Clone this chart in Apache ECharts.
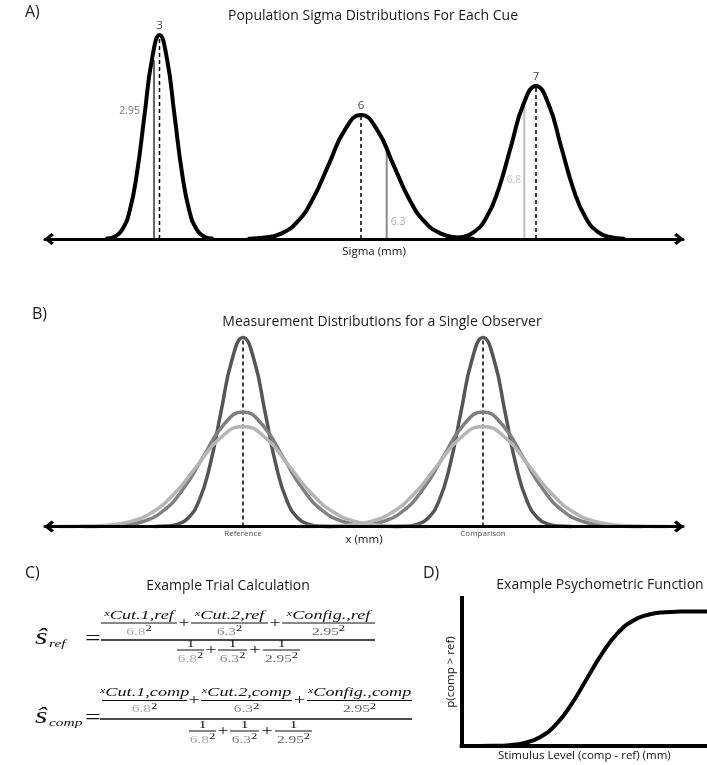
<!DOCTYPE html>
<html>
<head>
<meta charset="utf-8">
<script src="https://cdn.jsdelivr.net/npm/echarts@6/dist/echarts.min.js"></script>
<style>
  html, body { margin: 0; padding: 0; background: #fff; }
  #chart { width: 707px; height: 765px; }
</style>
</head>
<body>
<div id="chart"></div>
<script>
// ── values (arbitrary units along each drawn axis) ──

// A) population sigma distributions, one per cue
const cueLabels = ['3', '6', '7'];
const cuePeakX = [114.5, 316, 491];
const cuePeakH = [204, 124, 153];
const cue1X = [62, 69.5, 77, 84.5, 92, 99.5, 107, 114.5, 122, 129.5, 137, 144.5, 152, 159.5, 167];
const cue1Y = [0.4, 2.3, 9, 27.6, 66.2, 123.7, 180, 204, 180, 123.7, 66.2, 27.6, 9, 2.3, 0.4];
const cue2X = [204, 220, 236, 252, 268, 284, 300, 316, 332, 348, 364, 380, 396, 412, 428];
const cue2Y = [0.3, 1.4, 5.4, 16.8, 40.3, 75.2, 109.4, 124, 109.4, 75.2, 40.3, 16.8, 5.4, 1.4, 0.3];
const cue3X = [403.5, 416, 428.5, 441, 453.5, 466, 478.5, 491, 503.5, 516, 528.5, 541, 553.5, 566, 578.5];
const cue3Y = [0.3, 1.7, 6.7, 20.7, 49.7, 92.8, 135, 153, 135, 92.8, 49.7, 20.7, 6.7, 1.7, 0.3];

// sampled sigma of each cue (grey markers)
const sampleLabels = ['2.95', '6.3', '6.8'];
const sampleX = [109, 341.7, 479.3];
const sampleH = [179, 90, 137];

// B) measurement distributions for one observer
const obsLabels = ['Reference', 'Comparison'];
const obsX = [198, 438];
const obsPeak = 189;
const refDarkX = [110, 121, 132, 143, 154, 165, 176, 187, 198, 209, 220, 231, 242, 253, 264, 275, 286];
const cmpDarkX = [350, 361, 372, 383, 394, 405, 416, 427, 438, 449, 460, 471, 482, 493, 504, 515, 526];
const darkY = [0.1, 0.4, 2.1, 8.3, 25.6, 61.4, 114.6, 166.8, 189, 166.8, 114.6, 61.4, 25.6, 8.3, 2.1, 0.4, 0.1];
const refMidX = [38, 58, 78, 98, 118, 138, 158, 178, 198, 218, 238, 258, 278, 298, 318, 338, 358];
const cmpMidX = [278, 298, 318, 338, 358, 378, 398, 418, 438, 458, 478, 498, 518, 538, 558, 578, 598];
const midY = [0, 0.3, 1.3, 5, 15.5, 37.2, 69.4, 101, 114.5, 101, 69.4, 37.2, 15.5, 5, 1.3, 0.3, 0];
const refLightX = [14, 37, 60, 83, 106, 129, 152, 175, 198, 221, 244, 267, 290, 313, 336, 359, 382];
const cmpLightX = [254, 277, 300, 323, 346, 369, 392, 415, 438, 461, 484, 507, 530, 553, 576, 599, 622];
const lightY = [0, 0.2, 1.1, 4.4, 13.5, 32.5, 60.7, 88.3, 100, 88.3, 60.7, 32.5, 13.5, 4.4, 1.1, 0.2, 0];

// C) cue weights in the trial calculation
const cueNames = ['Cut.1', 'Cut.2', 'Config.'];
const cueSigmas = ['6.8', '6.3', '2.95'];

// D) psychometric function
const psyX = [0, 16.5, 32, 47.5, 63, 78.5, 94, 109.5, 125, 140.5, 156, 171.5, 187, 202.5, 218, 233.5, 245];
const psyP = [0, 0, 0.001, 0.006, 0.023, 0.067, 0.159, 0.309, 0.5, 0.691, 0.841, 0.933, 0.977, 0.994, 0.999, 1, 1];

// ── styles ──
const FONT = "'Open Sans', 'Noto Sans', sans-serif";
const MATH = "'Liberation Serif', 'DejaVu Serif', serif";
const INK = '#111';
const DARK = '#555';
const MID = '#808080';
const LIGHT = '#b5b5b5';
const SAMPLE_LINE = ['#666', '#8a8a8a', '#bdbdbd'];
const SAMPLE_TEXT = ['#555', '#9a9a9a', '#b8b8b8'];
// where each grey number sits next to its marker
const SAMPLE_LABEL = [
  { h: 128, position: 'left', distance: 14 },
  { h: 17, position: 'right', distance: 4 },
  { h: 59, position: 'left', distance: 3 },
];
const CHEVRON = 'path://M6,0 L12,7.5 L9.8,10 L6,5 L2.2,10 L0,7.5 Z';
const SX = 1.4; // the equation image in the figure is stretched sideways

const zip = (xs, ys) => xs.map((x, i) => [x, ys[i]]);

function curve(g, xs, ys, color, width) {
  return {
    type: 'line', xAxisIndex: g, yAxisIndex: g, data: zip(xs, ys),
    smooth: 0.5, symbol: 'none', clip: false, silent: true, z: 3,
    lineStyle: { color, width, cap: 'round' },
  };
}
function vline(g, x, h, color, width, type) {
  return {
    type: 'line', xAxisIndex: g, yAxisIndex: g, data: [[x, 0], [x, h]],
    symbol: 'none', clip: false, silent: true, z: 2,
    lineStyle: { color, width, type },
  };
}
function arrowAxis(g, max, name, nameExtra) {
  return {
    type: 'value', gridIndex: g, min: 0, max, z: 6,
    axisLine: {
      show: true, onZero: false,
      symbol: [CHEVRON, CHEVRON], symbolSize: [12, 10], symbolOffset: [4, -4],
      lineStyle: { color: '#000', width: 3 },
    },
    axisTick: { show: false }, axisLabel: { show: false }, splitLine: { show: false },
    name, nameLocation: 'middle', nameGap: 7,
    nameTextStyle: Object.assign({ color: INK, fontSize: 11.5, fontFamily: FONT }, nameExtra),
  };
}
function hiddenY(g, max) {
  return { type: 'value', gridIndex: g, min: 0, max, show: false };
}

// ── equation helpers (panel C) ──
const RICH = {
  x: { font: `italic 9px ${MATH}`, fill: INK, lineHeight: 4, verticalAlign: 'top' },
  s: { font: `italic 13px ${MATH}`, fill: INK, lineHeight: 13, verticalAlign: 'bottom' },
  t0: { font: `11px ${MATH}`, fill: '#aaa', lineHeight: 13, verticalAlign: 'bottom' },
  t1: { font: `11px ${MATH}`, fill: '#888', lineHeight: 13, verticalAlign: 'bottom' },
  t2: { font: `11px ${MATH}`, fill: '#666', lineHeight: 13, verticalAlign: 'bottom' },
  p: { font: `9px ${MATH}`, fill: INK, lineHeight: 8, verticalAlign: 'top' },
};
function mt(x, y, text, font, extra) {
  return {
    type: 'text', x, y, scaleX: SX, silent: true, z: 10,
    style: Object.assign({ text, font, fill: INK, align: 'center', verticalAlign: 'middle', rich: RICH }, extra),
  };
}
function hbar(x1, x2, y, w) {
  return { type: 'line', silent: true, z: 10, shape: { x1, y1: y, x2, y2: y }, style: { stroke: INK, lineWidth: w } };
}
function equation(f) {
  const els = [
    mt(f.hatX, f.mainY - 2, 'ŝ', `italic 23px ${MATH}`, { align: 'left' }),
    mt(f.subX, f.mainY + 4, f.sub, `italic 11px ${MATH}`, { align: 'left' }),
    mt(f.eqX, f.mainY, '=', `20px ${MATH}`),
    hbar(f.bar[0], f.bar[1], f.mainY, 1.3),
  ];
  f.num.forEach((b, i) => {
    const cx = (b[0] + b[1]) / 2;
    els.push(hbar(b[0], b[1], f.numY, 1));
    els.push(mt(cx, f.numY - 7.5, `{x|x}{s|${cueNames[i]},${f.sub}}`, `13px ${MATH}`));
    els.push(mt(cx, f.numY + 8, `{t${i}|${cueSigmas[i]}}{p|2}`, `11px ${MATH}`));
  });
  f.numPlus.forEach((x) => els.push(mt(x, f.numY, '+', `14px ${MATH}`)));
  f.den.forEach((b, i) => {
    const cx = (b[0] + b[1]) / 2;
    els.push(hbar(b[0], b[1], f.denY, 1));
    els.push(mt(cx, f.denY - 6, '1', `11px ${MATH}`));
    els.push(mt(cx, f.denY + 8, `{t${i}|${cueSigmas[i]}}{p|2}`, `11px ${MATH}`));
  });
  f.denPlus.forEach((x) => els.push(mt(x, f.denY, '+', `14px ${MATH}`)));
  return els;
}
function label(x, y, text, size, align, color) {
  return {
    type: 'text', x, y, silent: true,
    style: { text, fill: color || '#1a1a1a', font: `${size}px ${FONT}`, align: align || 'center', verticalAlign: 'middle' },
  };
}

const graphic = [
  label(25, 12, 'A)', 16, 'left'),
  label(373, 16, 'Population Sigma Distributions For Each Cue', 14),
  label(32, 314, 'B)', 16, 'left'),
  label(382, 322, 'Measurement Distributions for a Single Observer', 14),
  label(25, 573, 'C)', 16, 'left'),
  label(228, 586, 'Example Trial Calculation', 14),
  label(423, 573, 'D)', 16, 'left'),
  label(600, 585, 'Example Psychometric Function', 14),
  ...equation({
    sub: 'ref', hatX: 35, subX: 49, eqX: 93, mainY: 640, bar: [101, 375],
    numY: 623, num: [[101, 177], [191, 268], [282, 375]], numPlus: [184, 275],
    denY: 650, den: [[177, 204], [218, 247], [263, 300]], denPlus: [211, 255],
  }),
  ...equation({
    sub: 'comp', hatX: 35, subX: 49, eqX: 93, mainY: 719, bar: [100, 412],
    numY: 700.5, num: [[102, 187], [201, 292], [307, 412]], numPlus: [194, 299.5],
    denY: 731, den: [[189, 216], [230, 259], [275, 312]], denPlus: [223, 267],
  }),
];

const series = [
  // A
  ...cuePeakX.map((x, i) => vline(0, x, cuePeakH[i], '#000', 1.5, [4, 3])),
  ...sampleX.map((x, i) => vline(0, x, sampleH[i], SAMPLE_LINE[i], 2, 'solid')),
  curve(0, cue1X, cue1Y, '#000', 4),
  curve(0, cue2X, cue2Y, '#000', 4),
  curve(0, cue3X, cue3Y, '#000', 4),
  {
    type: 'scatter', xAxisIndex: 0, yAxisIndex: 0, symbolSize: 0, silent: true, z: 4,
    data: cuePeakX.map((x, i) => ({ value: [x, cuePeakH[i]], name: cueLabels[i] })),
    label: { show: true, position: 'top', distance: 3, formatter: '{b}', color: INK, fontSize: 11.5, fontFamily: FONT },
  },
  {
    type: 'scatter', xAxisIndex: 0, yAxisIndex: 0, symbolSize: 0, silent: true, z: 4,
    data: sampleX.map((x, i) => ({
      value: [x, SAMPLE_LABEL[i].h], name: sampleLabels[i],
      label: { position: SAMPLE_LABEL[i].position, distance: SAMPLE_LABEL[i].distance, color: SAMPLE_TEXT[i] },
    })),
    label: { show: true, formatter: '{b}', fontSize: 10.5, fontFamily: FONT },
  },
  // B
  ...obsX.map((x) => vline(1, x, obsPeak, '#000', 1.5, [4, 3])),
  curve(1, refDarkX, darkY, DARK, 3.5),
  curve(1, cmpDarkX, darkY, DARK, 3.5),
  curve(1, refMidX, midY, MID, 3.5),
  curve(1, cmpMidX, midY, MID, 3.5),
  curve(1, refLightX, lightY, LIGHT, 3.5),
  curve(1, cmpLightX, lightY, LIGHT, 3.5),
  {
    type: 'scatter', xAxisIndex: 1, yAxisIndex: 1, symbolSize: 0, silent: true, z: 7,
    data: obsX.map((x, i) => ({ value: [x, 0], name: obsLabels[i] })),
    label: { show: true, position: 'bottom', distance: 3, formatter: '{b}', color: '#222', fontSize: 8, fontFamily: FONT },
  },
  // D
  curve(2, psyX, psyP, '#000', 4),
];

const chart = echarts.init(document.getElementById('chart'));
chart.setOption({
  animation: false,
  backgroundColor: '#fff',
  grid: [
    { left: 45, top: 29, width: 638, height: 210 },
    { left: 45, top: 316.5, width: 638, height: 210 },
    { left: 461.7, top: 598, width: 245.3, height: 148 },
  ],
  xAxis: [
    arrowAxis(0, 638, 'Sigma (mm)', { padding: [0, 0, 0, 20] }),
    arrowAxis(1, 638, 'x (mm)'),
    {
      type: 'value', gridIndex: 2, min: 0, max: 245, z: 6,
      axisLine: { show: true, onZero: false, lineStyle: { color: '#000', width: 4, cap: 'square' } },
      axisTick: { show: false }, axisLabel: { show: false }, splitLine: { show: false },
      name: 'Stimulus Level (comp - ref) (mm)', nameLocation: 'middle', nameGap: 4,
      nameTextStyle: { color: INK, fontSize: 11.5, fontFamily: FONT },
    },
  ],
  yAxis: [
    hiddenY(0, 210),
    hiddenY(1, 210),
    {
      type: 'value', gridIndex: 2, min: 0, max: 1.1, z: 6,
      axisLine: { show: true, onZero: false, lineStyle: { color: '#000', width: 4, cap: 'square' } },
      axisTick: { show: false }, axisLabel: { show: false }, splitLine: { show: false },
      name: 'p(comp > ref)', nameLocation: 'middle', nameGap: 5, nameRotate: 90,
      nameTextStyle: { color: INK, fontSize: 11.5, fontFamily: FONT },
    },
  ],
  series,
  graphic,
});
</script>
</body>
</html>
